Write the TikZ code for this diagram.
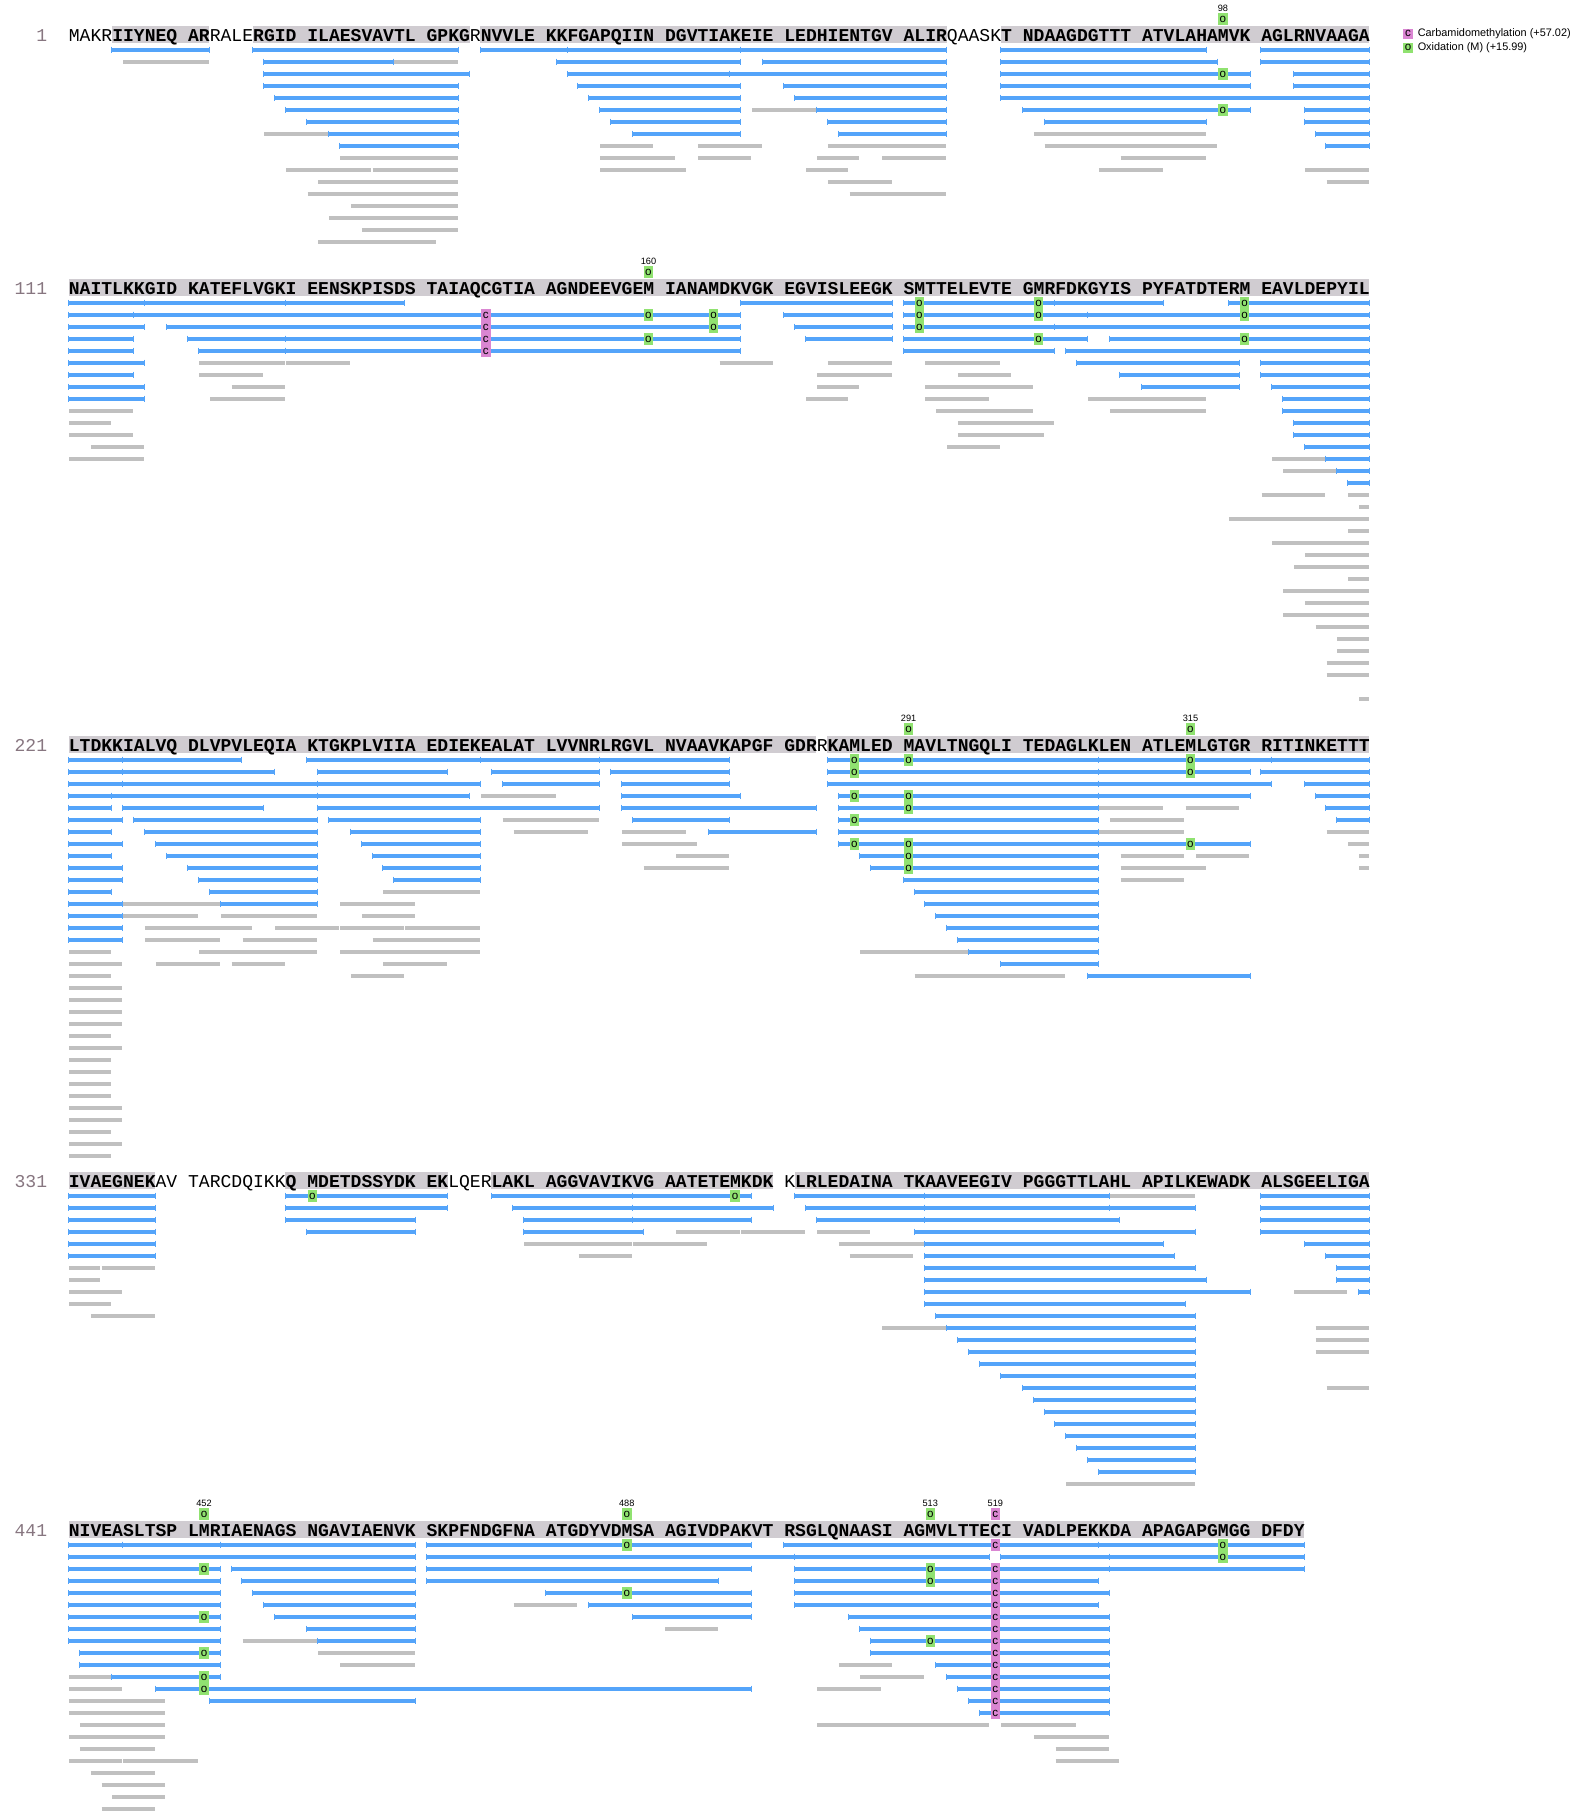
\documentclass[tikz,border=0pt]{standalone}
\usepackage{fontspec}
\setmainfont{Liberation Sans}
\setmonofont{Liberation Mono}
\usetikzlibrary{positioning}

\definecolor{pepb}{RGB}{84,164,250}
\definecolor{pepg}{RGB}{192,192,192}
\definecolor{covg}{RGB}{208,204,209}
\definecolor{oxg}{RGB}{144,226,112}
\definecolor{camp}{RGB}{218,134,210}
\definecolor{numc}{RGB}{135,118,128}

\newcommand\seqfont{\fontsize{9.03}{10}\selectfont\ttfamily\bfseries}
\newcommand\modfont{\fontsize{5.8}{6}\selectfont}

% left and right edge of residue #1 of a row (10 per block, one blank between)
\pgfmathdeclarefunction{xl}{1}{\pgfmathparse{68.5+10.84*((#1-1)+floor((#1-1)/10))}}
\pgfmathdeclarefunction{xr}{1}{\pgfmathparse{79.34+10.84*((#1-1)+floor((#1-1)/10))}}

\tikzset{
  pepblue/.style={draw=pepb,line width=2pt},
  peptick/.style={draw=pepb,line width=0.5pt},
  pepgray/.style={draw=pepg,line width=2pt},
  covfill/.style={fill=covg},
  seqtext/.style={anchor=base west,inner sep=0pt,font=\seqfont},
  rownum/.style={anchor=base east,inner sep=0pt,text=numc,font=\fontsize{9.03}{10}\selectfont\ttfamily},
  oxbox/.style={fill=oxg,inner sep=0pt,minimum width=4.75pt,minimum height=6pt,font=\modfont},
  cambox/.style={oxbox,fill=camp},
  modnum/.style={inner sep=0pt,font=\fontsize{4.6}{5}\selectfont},
  keytext/.style={inner sep=0pt,font=\fontsize{5.45}{6}\selectfont}
}

% #1 text y, #2 blue peptides line/from/to, #3 grey peptides
\newcommand\pepbars[3]{%
  \foreach \li/\pa/\pb [evaluate=\li as \yy using #1+15+12*\li,
      evaluate=\pa as \xa using xl(\pa)+0.6,
      evaluate=\pb as \xb using xr(\pb)-0.6] in {#3}
    {\draw[pepgray] (\xa,\yy) -- (\xb,\yy);}
  \foreach \li/\pa/\pb [evaluate=\li as \yy using #1+15+12*\li,
      evaluate=\pa as \xa using xl(\pa),
      evaluate=\pb as \xb using xr(\pb)] in {#2}
    {\draw[pepblue] (\xa,\yy) -- (\xb,\yy);
     \draw[peptick] (\xa,\yy-3.3) -- (\xa,\yy+3.3) (\xb,\yy-3.3) -- (\xb,\yy+3.3);}
}
% #1 name, #2 text y, #3 style, #4 letter, #5 line/residue
\newcommand\pepmods[5]{%
  \foreach \li/\pr [evaluate=\li as \yy using #2+15+12*\li,
      evaluate=\pr as \xp using xl(\pr)+5.42] in {#5}
    {\node[#3] (#1\li-\pr) at (\xp,\yy) {#4};}
}
% #1 text y, #2 covered ranges
\newcommand\covbg[2]{%
  \foreach \pa/\pb [evaluate=\pa as \xa using xl(\pa),
      evaluate=\pb as \xb using xr(\pb)] in {#2}
    {\fill[covfill] (\xa,#1-9) rectangle (\xb,#1+8);}
}
% #1 name, #2 text y, #3 blocks of ten
\newcommand\seqline[3]{%
  \foreach \t [count=\g from 0] in {#3}
    {\pgfmathsetmacro\xg{68.5+119.24*\g}
     \node[seqtext] (#1g\g) at (\xg,#2+6) {\t};}
}

\begin{document}
\begin{tikzpicture}[x=0.5pt,y=-0.5pt]
\useasboundingbox (0,0) rectangle (1577,1820);

% legend
\node[cambox,minimum height=5pt] (keyc) at (1408,33.5) {c};
\node[keytext,right=2.1pt of keyc] (keyct) {Carbamidomethylation (+57.02)};
\node[oxbox,minimum height=5pt] (keyo) at (1408,47.5) {o};
\node[keytext,right=2.1pt of keyo] (keyot) {Oxidation (M) (+15.99)};

% 1-110
\covbg{35}{5/12,17/34,36/74,80/110}
\node[rownum] (n1) at (47.5,41) {1};
\seqline{r1}{35}{{\textmd{MAKR}IIYNEQ},{AR\textmd{RALE}RGID},ILAESVAVTL,{GPKG\textmd{R}NVVLE},KKFGAPQIIN,DGVTIAKEIE,LEDHIENTGV,{ALIR\textmd{QAASK}T},NDAAGDGTTT,ATVLAHAMVK,AGLRNVAAGA}
\pepbars{35}{0/5/12,0/17/33,0/36/42,0/43/57,0/58/74,0/80/96,0/101/110,
  1/18/28,1/42/57,1/60/74,1/80/97,1/101/110,
  2/18/34,2/43/56,2/57/74,2/80/100,2/104/110,
  3/18/33,3/44/57,3/61/74,3/80/100,3/104/110,
  4/19/33,4/45/57,4/62/74,4/80/110,
  5/20/33,5/46/57,5/64/74,5/81/100,5/105/110,
  6/21/33,6/47/57,6/65/74,6/83/96,6/105/110,
  7/23/33,7/49/57,7/66/74,7/106/110,
  8/24/33,8/107/110}
 {1/6/12,1/29/33,5/59/63,7/18/22,7/82/96,8/46/50,8/54/59,8/65/74,8/83/97,
  9/24/33,9/46/51,9/54/58,9/64/67,9/70/74,9/90/96,
  10/20/26,10/27/33,10/46/52,10/63/66,10/88/92,10/105/110,
  11/22/33,11/65/70,11/107/110,12/21/33,12/67/74,
  13/25/33,14/23/33,15/26/33,16/22/31}
\pepmods{r1o}{35}{oxbox}{o}{2/98,5/98}
\node[oxbox] (t98) at ({xl(98)+5.42},19) {o};
\node[modnum] (l98) at ({xl(98)+5.42},8) {98};

% 111-220
\covbg{288}{1/110}
\node[rownum] (n111) at (47.5,294) {111};
\seqline{r2}{288}{NAITLKKGID,KATEFLVGKI,EENSKPISDS,TAIAQCGTIA,AGNDEEVGEM,IANAMDKVGK,EGVISLEEGK,SMTTELEVTE,GMRFDKGYIS,PYFATDTERM,EAVLDEPYIL}
\pepbars{288}{0/1/7,0/8/19,0/20/29,0/58/70,0/71/83,0/84/92,0/99/110,
  1/1/6,1/7/57,1/61/70,1/71/86,1/87/110,
  2/1/7,2/10/57,2/62/70,2/71/83,2/84/110,
  3/1/6,3/11/19,3/20/57,3/63/70,3/71/86,3/89/110,
  4/1/6,4/12/19,4/20/57,4/71/83,4/85/110,
  5/1/7,5/86/99,5/101/110,6/1/6,6/90/99,6/101/110,
  7/1/7,7/91/99,7/102/110,8/1/7,8/103/110,
  9/103/110,10/104/110,11/104/110,12/105/110,13/107/110,14/108/110,15/109/110}
 {5/12/19,5/20/24,5/56/60,5/65/70,5/73/79,
  6/12/17,6/64/70,6/76/80,7/15/19,7/64/67,7/73/81,
  8/13/19,8/63/66,8/73/78,8/87/96,9/1/6,9/74/81,9/89/96,
  10/1/4,10/76/83,11/1/6,11/76/82,12/3/7,12/75/79,13/1/7,13/102/106,
  14/103/107,16/101/106,16/109/110,17/110/110,18/99/110,19/109/110,
  20/102/110,21/105/110,22/104/110,23/109/110,24/103/110,25/105/110,
  26/103/110,27/106/110,28/108/110,29/108/110,30/107/110,31/107/110,33/110/110}
\pepmods{r2c}{288}{cambox}{c}{1/36,2/36,3/36,4/36}
\pepmods{r2o}{288}{oxbox}{o}{0/72,0/82,0/100,1/50,1/55,1/72,1/82,1/100,2/55,2/72,3/50,3/82,3/100}
\node[oxbox] (t160) at ({xl(50)+5.42},272) {o};
\node[modnum] (l160) at ({xl(50)+5.42},261) {160};

% 221-330
\covbg{745}{1/63,65/110}
\node[rownum] (n221) at (47.5,751) {221};
\seqline{r3}{745}{LTDKKIALVQ,DLVPVLEQIA,KTGKPLVIIA,EDIEKEALAT,LVVNRLRGVL,NVAAVKAPGF,{GDR\textmd{R}KAMLED},MAVLTNGQLI,TEDAGLKLEN,ATLEMLGTGR,RITINKETTT}
\pepbars{745}{0/1/5,0/6/15,0/21/35,0/36/45,0/46/56,0/65/87,0/88/101,0/102/110,
  1/1/5,1/6/18,1/22/32,1/37/45,1/47/56,1/65/87,1/88/100,1/101/110,
  2/1/5,2/6/21,2/22/35,2/38/45,2/48/56,2/65/87,2/88/101,2/105/110,
  3/1/4,3/5/21,3/22/34,3/48/57,3/66/87,3/88/100,3/106/110,
  4/1/4,4/6/17,4/22/45,4/48/63,4/66/87,4/107/110,
  5/1/5,5/7/21,5/23/35,5/49/56,5/66/87,5/108/110,
  6/1/4,6/8/21,6/25/35,6/55/63,6/66/87,
  7/1/5,7/9/21,7/26/35,7/66/87,7/88/100,
  8/1/4,8/10/21,8/27/35,8/68/87,9/1/5,9/11/21,9/28/35,9/69/87,
  10/1/5,10/12/21,10/29/35,10/71/87,11/1/4,11/13/21,11/72/87,
  12/1/5,12/14/21,12/73/87,13/1/5,13/74/87,14/1/5,14/75/87,15/1/5,15/76/87,
  16/77/87,17/80/87,18/87/100}
 {3/36/41,4/88/92,4/95/99,5/38/45,5/89/94,6/39/44,6/48/52,6/88/94,6/107/110,
  7/48/53,7/109/110,8/52/56,8/90/94,8/96/100,8/110/110,9/50/56,9/90/96,9/110/110,10/90/94,
  11/28/35,12/6/13,12/24/30,13/6/11,13/14/21,13/26/30,
  14/8/16,14/19/23,14/24/29,14/30/35,15/8/13,15/16/21,15/27/35,
  16/1/4,16/12/21,16/24/35,16/68/76,17/1/5,17/9/13,17/15/19,17/28/32,
  18/1/4,18/25/29,18/72/84,19/1/5,20/1/5,21/1/5,22/1/5,23/1/4,24/1/5,
  25/1/4,26/1/4,27/1/4,28/1/4,29/1/5,30/1/5,31/1/4,32/1/5,33/1/4}
\pepmods{r3o}{745}{oxbox}{o}{0/67,0/71,0/95,1/67,1/95,3/67,3/71,4/71,5/67,7/67,7/71,7/95,8/71,9/71}
\node[oxbox] (t291) at ({xl(71)+5.42},729) {o};
\node[modnum] (l291) at ({xl(71)+5.42},718) {291};
\node[oxbox] (t315) at ({xl(95)+5.42},729) {o};
\node[modnum] (l315) at ({xl(95)+5.42},718) {315};

% 331-440
\covbg{1181}{1/8,20/32,37/60,62/110}
\node[rownum] (n331) at (47.5,1187) {331};
\seqline{r4}{1181}{{IVAEGNEK\textmd{AV}},{\textmd{TARCDQIKK}Q},MDETDSSYDK,{EK\textmd{LQER}LAKL},AGGVAVIKVG,AATETEMKDK,{\textmd{K}LRLEDAINA},TKAAVEEGIV,PGGGTTLAHL,APILKEWADK,ALSGEELIGA}
\pepbars{1181}{0/1/8,0/20/32,0/37/48,0/49/58,0/62/72,0/73/88,0/101/110,
  1/1/8,1/20/32,1/39/48,1/49/60,1/63/72,1/73/88,1/89/95,1/101/110,
  2/1/8,2/20/30,2/40/48,2/49/58,2/64/72,2/73/89,2/101/110,
  3/1/8,3/21/30,3/40/49,3/72/95,3/101/110,
  4/1/8,4/73/92,4/105/110,5/1/8,5/73/93,5/107/110,
  6/73/95,6/108/110,7/73/96,7/108/110,8/73/100,8/110/110,
  9/73/94,10/74/95,11/75/95,12/76/95,13/77/95,14/78/95,15/80/95,16/81/95,
  17/82/95,18/83/95,19/84/95,20/85/95,21/86/95,22/87/95,23/88/95}
 {0/89/95,3/52/57,3/58/62,3/64/68,4/40/48,4/49/54,4/66/72,5/44/48,5/67/71,
  6/1/3,6/4/8,7/1/3,8/1/5,8/104/108,9/1/4,10/3/8,11/70/74,11/106/110,
  12/106/110,13/106/110,16/107/110,24/85/95}
\pepmods{r4o}{1181}{oxbox}{o}{0/21,0/57}

% 441-544
\covbg{1530}{1/104}
\node[rownum] (n441) at (47.5,1536) {441};
\seqline{r5}{1530}{NIVEASLTSP,LMRIAENAGS,NGAVIAENVK,SKPFNDGFNA,ATGDYVDMSA,AGIVDPAKVT,RSGLQNAASI,AGMVLTTECI,VADLPEKKDA,APAGAPGMGG,DFDY}
\pepbars{1530}{0/1/5,0/6/13,0/14/30,0/31/58,0/61/87,0/88/104,
  1/1/30,1/31/61,1/62/78,1/80/88,1/89/104,
  2/1/13,2/15/30,2/31/58,2/62/88,2/89/104,
  3/1/13,3/16/30,3/31/55,3/62/87,4/1/13,4/17/30,4/41/58,4/62/88,
  5/1/13,5/18/30,5/45/58,5/62/87,6/1/13,6/19/30,6/49/58,6/67/88,
  7/1/13,7/21/30,7/68/88,8/1/13,8/22/30,8/69/88,9/2/13,9/69/88,
  10/2/13,10/74/88,11/5/13,11/75/88,12/9/58,12/76/88,13/13/30,13/77/88,14/78/88}
 {5/39/43,7/51/55,8/16/21,9/22/30,10/24/30,10/66/70,11/1/4,11/68/72,12/1/5,12/64/69,
  13/1/9,14/1/9,15/2/9,15/64/78,15/80/85,16/1/9,16/82/88,17/2/8,17/84/88,
  18/1/5,18/6/11,18/84/89,19/3/8,20/4/9,21/5/9,22/4/8}
\pepmods{r5c}{1530}{cambox}{c}{0/79,2/79,3/79,4/79,5/79,6/79,7/79,8/79,9/79,10/79,11/79,12/79,13/79,14/79}
\pepmods{r5o}{1530}{oxbox}{o}{0/48,0/98,1/98,2/12,2/73,3/73,4/48,6/12,8/73,9/12,11/12,12/12}
\node[oxbox] (t452) at ({xl(12)+5.42},1514) {o};
\node[modnum] (l452) at ({xl(12)+5.42},1503) {452};
\node[oxbox] (t488) at ({xl(48)+5.42},1514) {o};
\node[modnum] (l488) at ({xl(48)+5.42},1503) {488};
\node[oxbox] (t513) at ({xl(73)+5.42},1514) {o};
\node[modnum] (l513) at ({xl(73)+5.42},1503) {513};
\node[cambox] (t519) at ({xl(79)+5.42},1514) {c};
\node[modnum] (l519) at ({xl(79)+5.42},1503) {519};
\end{tikzpicture}
\end{document}
